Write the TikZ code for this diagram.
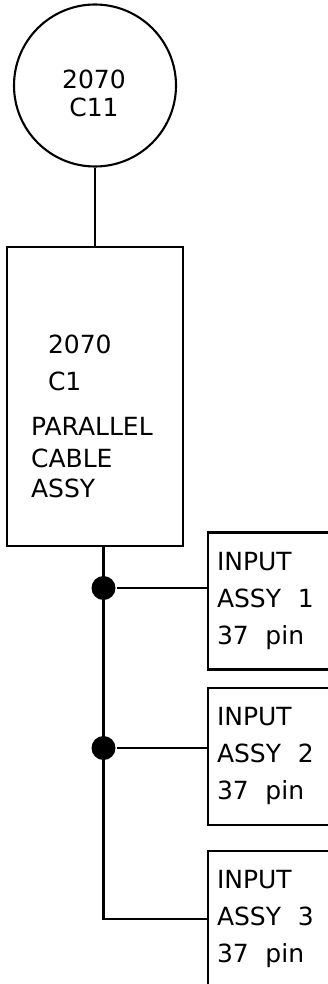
\documentclass[tikz,border=0pt]{standalone}
\usepackage{fontspec}
\newfontfamily\cadfont{DejaVu Sans}
\usetikzlibrary{positioning, calc}

\begin{document}
\begin{tikzpicture}[
    x=1pt, y=-1pt,
    line width=2.1pt,
    unit/.style={circle, draw, minimum size=162pt, inner sep=0pt},
    cablebox/.style={rectangle, draw, minimum width=176pt, minimum height=299pt, inner sep=0pt},
    inbox/.style={rectangle, draw, minimum height=137pt, text width=114pt, inner xsep=9pt,
                  align=left, font=\cadfont\fontsize{25}{37}\selectfont},
    lbl/.style={inner sep=0pt, font=\cadfont\fontsize{25}{32}\selectfont},
    dot/.style={circle, fill, minimum size=24pt, inner sep=0pt}
]
\useasboundingbox (0,0) rectangle (328,984);
\clip (0,0) rectangle (328,984);

\node[unit] (c11) at (95,85.5) {};
\node[lbl, align=center, font=\cadfont\fontsize{25}{28}\selectfont] (c11txt) at ($(c11)+(-1,7.5)$) {2070\\C11};

\node[cablebox, below=78pt of c11] (cable) {};
\node[lbl, align=left, anchor=north west] (cabletxt) at (30,334)
    {\hspace*{17pt}2070\\[5pt]\hspace*{17pt}C1\\[13pt]PARALLEL\\CABLE\\[-2pt]ASSY};

\node[inbox] (in1) at (274,601) {INPUT\\ASSY\ \ 1\\37\ \ pin};
\node[inbox, below=16pt of in1] (in2) {INPUT\\ASSY\ \ 2\\37\ \ pin};
\node[inbox, below=24pt of in2] (in3) {INPUT\\ASSY\ \ 3\\37\ \ pin};

\node[dot] (j1) at (103.5,588) {};
\node[dot] (j2) at (103.5,748) {};
\coordinate (j3) at (103.5,919);

\draw (c11.south) -- (c11.south |- cable.north);
\draw (cable.south -| j1) -- (j3) -- (j3 -| in3.west);
\draw (j1) -- (j1 -| in1.west);
\draw (j2) -- (j2 -| in2.west);
\end{tikzpicture}
\end{document}
